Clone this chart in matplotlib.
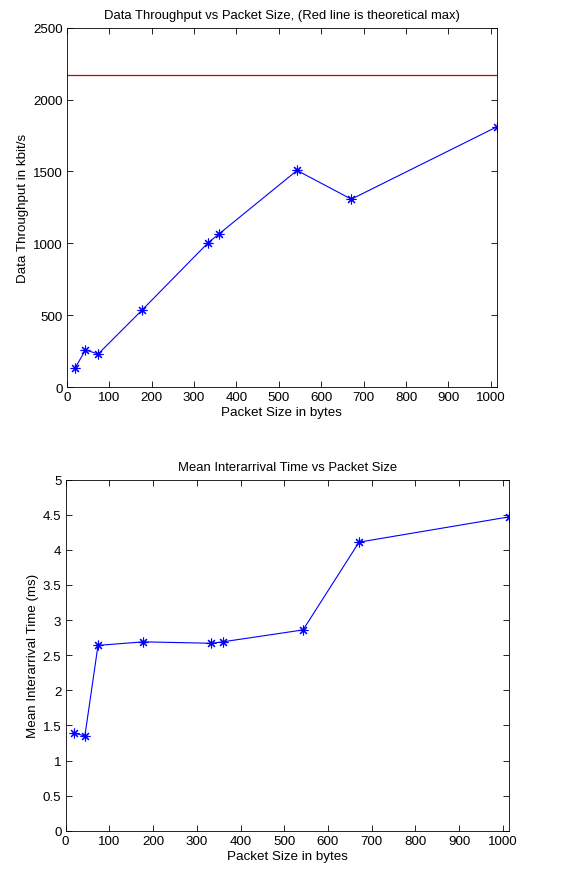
import matplotlib
matplotlib.use("Agg")
import matplotlib.pyplot as plt

packet_size = [20, 44, 74, 178, 333, 359, 543, 671, 1014]
throughput = [134, 258, 230, 537, 1003, 1065, 1507, 1307, 1810]
theoretical_max = 2170
interarrival = [1.39, 1.35, 2.64, 2.69, 2.67, 2.69, 2.86, 4.11, 4.47]

plt.rcParams['font.family'] = ['Liberation Sans', 'DejaVu Sans']
fig = plt.figure(figsize=(5.81, 8.7), dpi=100)

mk = dict(color='#0000ff', lw=0.8, marker=(8, 2, 0), ms=7, mew=0.8)
fs_title = 9.4
fs = 9.6

ax1 = fig.add_axes([0.115, 0.554, 0.740, 0.413])
ax1.axhline(theoretical_max, color='#d40000', lw=0.9)
ax1.plot(packet_size, throughput, **mk)
ax1.set_xlim(0, 1014)
ax1.set_ylim(0, 2500)
ax1.set_xticks(range(0, 1001, 100))
ax1.set_yticks(range(0, 2501, 500))
ax1.set_title('Data Throughput vs Packet Size, (Red line is theoretical max)', fontsize=fs_title, pad=7)
ax1.set_xlabel('Packet Size in bytes', fontsize=fs, labelpad=2)
ax1.set_ylabel('Data Throughput in kbit/s', fontsize=fs, labelpad=3)

ax2 = fig.add_axes([0.113, 0.044, 0.763, 0.4035])
ax2.plot(packet_size, interarrival, **mk)
ax2.set_xlim(0, 1014)
ax2.set_ylim(0, 5)
ax2.set_xticks(range(0, 1001, 100))
ax2.set_yticks([0, 0.5, 1, 1.5, 2, 2.5, 3, 3.5, 4, 4.5, 5])
ax2.set_yticklabels(['0', '0.5', '1', '1.5', '2', '2.5', '3', '3.5', '4', '4.5', '5'])
ax2.set_title('Mean Interarrival Time vs Packet Size', fontsize=fs_title, pad=7)
ax2.set_xlabel('Packet Size in bytes', fontsize=fs, labelpad=2)
ax2.set_ylabel('Mean Interarrival Time (ms)', fontsize=fs, labelpad=3)

for ax in (ax1, ax2):
    ax.tick_params(direction='in', top=True, right=True, labelsize=fs, length=4, width=0.6, pad=3)
    for s in ax.spines.values():
        s.set_linewidth(0.6)

fig.savefig('out.png', dpi=100)
